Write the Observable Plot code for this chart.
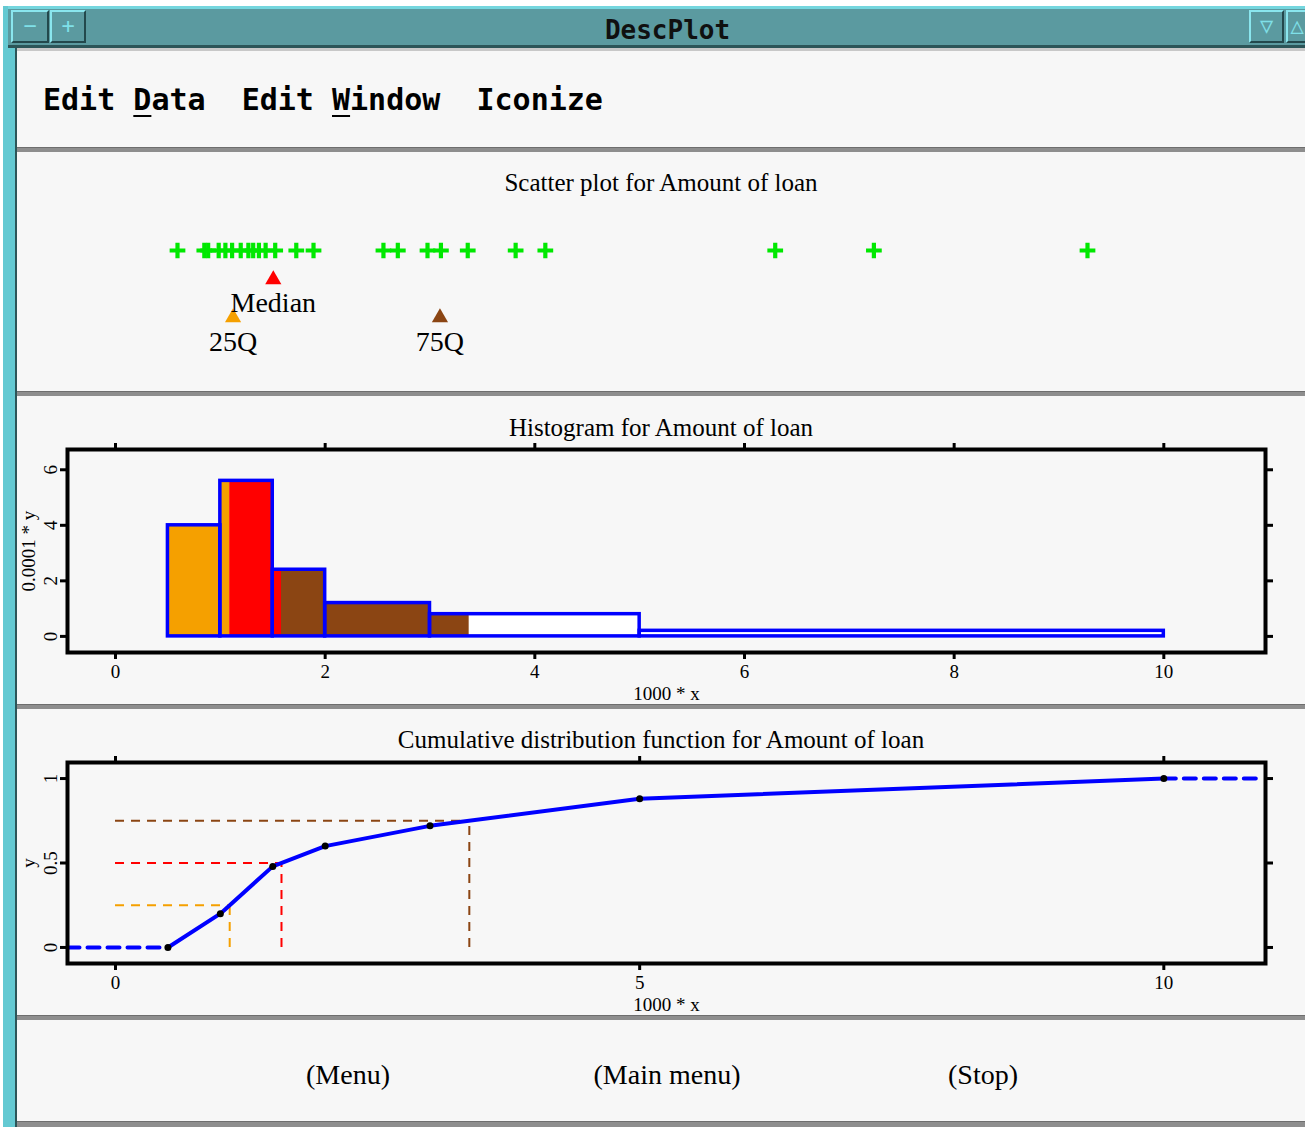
<!DOCTYPE html>
<html><head><meta charset="utf-8">
<script src="https://cdn.jsdelivr.net/npm/d3@7"></script>
<script src="https://cdn.jsdelivr.net/npm/@observablehq/plot@0.6"></script>
<style>
html,body{margin:0;padding:0;}
body{width:1305px;height:1127px;overflow:hidden;position:relative;background:#ffffff;font-family:"Liberation Serif",serif;color:#000;}
.abs{position:absolute;}
.sep{position:absolute;left:17px;width:1288px;height:4px;background:#8e8e8e;border-top:1px solid #6e6e6e;}
.ttl{position:absolute;left:17px;width:1288px;text-align:center;font-family:"Liberation Serif",serif;font-size:25px;line-height:25px;white-space:pre;}
.btn{position:absolute;font-family:"Liberation Serif",serif;font-size:28px;line-height:28px;white-space:pre;transform:translateX(-50%);}
.tb{position:absolute;top:10px;height:33px;border:2px solid;border-color:#8ae6ee #23484c #23484c #8ae6ee;background:#5b9aa0;box-sizing:border-box;color:#7fe0e8;text-align:center;font-family:"DejaVu Sans Mono",monospace;font-size:22px;line-height:28px;}
</style></head>
<body>
<div class="abs" style="left:3px;top:6px;width:14px;height:1121px;background:#64c9d2;border-right:2px solid #2c5558;box-sizing:border-box;"></div>
<div class="abs" style="left:8px;top:6px;width:1297px;height:42px;background:#5b9aa0;border-top:3px solid #74d6de;border-bottom:3px solid #2c5558;box-sizing:border-box;"></div>
<div class="tb" style="left:11px;width:38px;">&#x2212;</div>
<div class="tb" style="left:50px;width:36px;">+</div>
<div class="tb" style="left:1249px;width:35px;">&#x25BD;</div>
<div class="tb" style="left:1286px;width:22px;">&#x25B3;</div>
<div class="abs" style="left:86px;top:12px;width:1163px;text-align:center;font-family:'DejaVu Sans Mono',monospace;font-weight:bold;font-size:26px;line-height:36px;color:#101010;">DescPlot</div>
<div class="abs" style="left:17px;top:48px;width:1288px;height:1079px;background:#f7f7f7;"></div>
<div class="abs" style="left:17px;top:48px;width:1288px;height:3px;background:#c8c8c8;"></div>
<div class="abs" style="left:43px;top:85px;font-family:'DejaVu Sans Mono',monospace;font-weight:bold;font-size:30px;line-height:30px;white-space:pre;color:#000;">Edit <u style="text-decoration-thickness:2px;text-underline-offset:5px;">D</u>ata  Edit <u style="text-decoration-thickness:2px;text-underline-offset:5px;">W</u>indow  Iconize</div>
<div class="sep" style="top:147px;"></div>
<div class="sep" style="top:391px;"></div>
<div class="sep" style="top:704px;"></div>
<div class="sep" style="top:1015px;"></div>
<div class="sep" style="top:1121px;height:6px;"></div>

<div class="ttl" style="top:170px;">Scatter plot for Amount of loan</div>
<div class="ttl" style="top:415px;">Histogram for Amount of loan</div>
<div class="ttl" style="top:727px;">Cumulative distribution function for Amount of loan</div>

<div id="scatter" class="abs" style="left:17px;top:152px;"></div>
<div id="hist" class="abs" style="left:17px;top:397px;"></div>
<div id="cdf" class="abs" style="left:17px;top:709px;"></div>

<div class="btn" style="left:348px;top:1061px;">(Menu)</div>
<div class="btn" style="left:667px;top:1061px;">(Main menu)</div>
<div class="btn" style="left:983px;top:1061px;">(Stop)</div>

<script>
// ---- data (amounts in units of 1000) ----
const loanAmounts = [0.50,0.78,0.82,0.93,1.00,1.07,1.16,1.24,1.29,1.35,1.42,1.52,1.74,1.92,2.65,2.80,3.11,3.25,3.53,4.03,4.34,6.74,7.77,10.00];
const quantileNames = ["25Q","Median","75Q"];
const quantileProbs = [0.25,0.5,0.75];
const scatterQuantiles = [1.08,1.50,3.24];
const quantileColors = ["#f5a000","#ff0000","#8b4513"];
const binEdges = [0.5,1,1.5,2,3,5,10];
const binDensity = [4.0,5.6,2.4,1.2,0.8,0.2]; // 0.0001 * y
const cdfX = [0.5,1,1.5,2,3,5,10];
const cdfY = [0,0.2,0.48,0.6,0.72,0.88,1.0];
const histXTicks = [0,2,4,6,8,10];
const histYTicks = [0,2,4,6];
const cdfXTicks = [0,5,10];
const cdfYTicks = [0,0.5,1];

const BLUE = "#0000ff";
const font = {background:"transparent", fontFamily:"'Liberation Serif', serif", fontSize:"19px", color:"#000", overflow:"visible"};
const fmt = d => String(d);

// ---- scatter ----
const qRows = quantileNames.map((name,i)=>({name, value:scatterQuantiles[i], color:quantileColors[i]}));
const scatter = Plot.plot({
  width:1288, height:240, marginLeft:160, marginRight:218, marginTop:0, marginBottom:0,
  x:{domain:[0.5,10], axis:null},
  color:{type:"identity"},
  style:font,
  marks:[
    Plot.dot(loanAmounts,{x:d=>d, frameAnchor:"top", dy:98, symbol:"plus", r:3.8, stroke:"#00e800", strokeWidth:4.2, strokeLinecap:"square", fill:"none"}),
    Plot.dot(qRows.filter(d=>d.name==="Median"),{x:"value", frameAnchor:"top", dy:127, symbol:"triangle", r:6, fill:"color", stroke:"none"}),
    Plot.dot(qRows.filter(d=>d.name!=="Median"),{x:"value", frameAnchor:"top", dy:165, symbol:"triangle", r:6, fill:"color", stroke:"none"}),
    Plot.text(qRows.filter(d=>d.name==="Median"),{x:"value", text:"name", frameAnchor:"top", lineAnchor:"middle", dy:151, fontSize:28}),
    Plot.text(qRows.filter(d=>d.name!=="Median"),{x:"value", text:"name", frameAnchor:"top", lineAnchor:"middle", dy:190, fontSize:28})
  ]
});
document.getElementById("scatter").append(scatter);

// ---- quantiles of the CDF (inverse by linear interpolation) ----
function invCdf(p){
  for (let i=1;i<cdfX.length;i++){
    if (cdfY[i]>=p){
      const t=(p-cdfY[i-1])/(cdfY[i]-cdfY[i-1]);
      return cdfX[i-1]+t*(cdfX[i]-cdfX[i-1]);
    }
  }
  return cdfX[cdfX.length-1];
}
const qX = quantileProbs.map(invCdf);

// ---- histogram ----
const xDom = [-0.458, 10.97];
const bins = binDensity.map((y,i)=>({x0:binEdges[i], x1:binEdges[i+1], y}));
const segs = [
  {a:binEdges[0], b:qX[0], fill:quantileColors[0]},
  {a:qX[0], b:qX[1], fill:quantileColors[1]},
  {a:qX[1], b:qX[2], fill:quantileColors[2]},
  {a:qX[2], b:binEdges[binEdges.length-1], fill:"#ffffff"}
];
const pieces = [];
bins.forEach(bn=>segs.forEach(s=>{
  const a=Math.max(bn.x0,s.a), b=Math.min(bn.x1,s.b);
  if (b>a) pieces.push({x1:a, x2:b, y:bn.y, fill:s.fill});
}));
const axisCommon = {tickSize:7, strokeWidth:3, stroke:"#000", fontSize:19};
const hist = Plot.plot({
  width:1288, height:308, marginLeft:50, marginRight:40, marginTop:52, marginBottom:53,
  x:{domain:xDom}, y:{domain:[-0.58,6.73]},
  color:{type:"identity"},
  style:font,
  marks:[
    Plot.rect(pieces,{x1:"x1", x2:"x2", y1:0, y2:"y", fill:"fill"}),
    Plot.rect(bins,{x1:"x0", x2:"x1", y1:0, y2:"y", fill:"none", stroke:BLUE, strokeWidth:3.5}),
    Plot.frame({stroke:"#000", strokeWidth:4}),
    Plot.axisX({...axisCommon, anchor:"bottom", ticks:histXTicks, tickFormat:fmt, tickPadding:5, label:"1000 * x", labelAnchor:"center", labelArrow:"none", labelOffset:47}),
    Plot.axisX({...axisCommon, anchor:"top", ticks:histXTicks, tickFormat:()=>"", label:null}),
    Plot.axisY({...axisCommon, anchor:"left", ticks:histYTicks, tickFormat:fmt, tickRotate:-90, tickPadding:4, label:"0.0001 * y", labelAnchor:"center", labelArrow:"none", labelOffset:46}),
    Plot.axisY({...axisCommon, anchor:"right", ticks:histYTicks, tickFormat:()=>"", label:null})
  ]
});
document.getElementById("hist").append(hist);

// ---- CDF ----
const cdfPts = cdfX.map((x,i)=>({x, y:cdfY[i]}));
const qLines = quantileProbs.map((p,i)=>({p, q:qX[i], color:quantileColors[i]}));
const leftTail = [{x:xDom[0], y:cdfY[0]}, {x:cdfX[0], y:cdfY[0]}];
const rightTail = [{x:cdfX[cdfX.length-1], y:cdfY[cdfY.length-1]}, {x:xDom[1]-0.07, y:cdfY[cdfY.length-1]}];
const cdf = Plot.plot({
  width:1288, height:307, marginLeft:50, marginRight:40, marginTop:53, marginBottom:53,
  x:{domain:xDom}, y:{domain:[-0.095,1.095]},
  color:{type:"identity"},
  style:font,
  marks:[
    Plot.ruleY(qLines,{y:"p", x1:0, x2:"q", stroke:"color", strokeWidth:2, strokeDasharray:"9,7"}),
    Plot.ruleX(qLines,{x:"q", y1:0, y2:"p", stroke:"color", strokeWidth:2, strokeDasharray:"9,7"}),
    Plot.line(leftTail,{x:"x", y:"y", stroke:BLUE, strokeWidth:4, strokeDasharray:"12,8"}),
    Plot.line(rightTail,{x:"x", y:"y", stroke:BLUE, strokeWidth:4, strokeDasharray:"12,8"}),
    Plot.line(cdfPts,{x:"x", y:"y", stroke:BLUE, strokeWidth:4}),
    Plot.dot(cdfPts,{x:"x", y:"y", r:3.5, fill:"#000", stroke:"none"}),
    Plot.frame({stroke:"#000", strokeWidth:4}),
    Plot.axisX({...axisCommon, anchor:"bottom", ticks:cdfXTicks, tickFormat:fmt, tickPadding:5, label:"1000 * x", labelAnchor:"center", labelArrow:"none", labelOffset:47}),
    Plot.axisX({...axisCommon, anchor:"top", ticks:cdfXTicks, tickFormat:()=>"", label:null}),
    Plot.axisY({...axisCommon, anchor:"left", ticks:cdfYTicks, tickFormat:fmt, tickRotate:-90, tickPadding:4, label:"y", labelAnchor:"center", labelArrow:"none", labelOffset:46}),
    Plot.axisY({...axisCommon, anchor:"right", ticks:cdfYTicks, tickFormat:()=>"", label:null})
  ]
});
document.getElementById("cdf").append(cdf);
</script>
</body></html>
